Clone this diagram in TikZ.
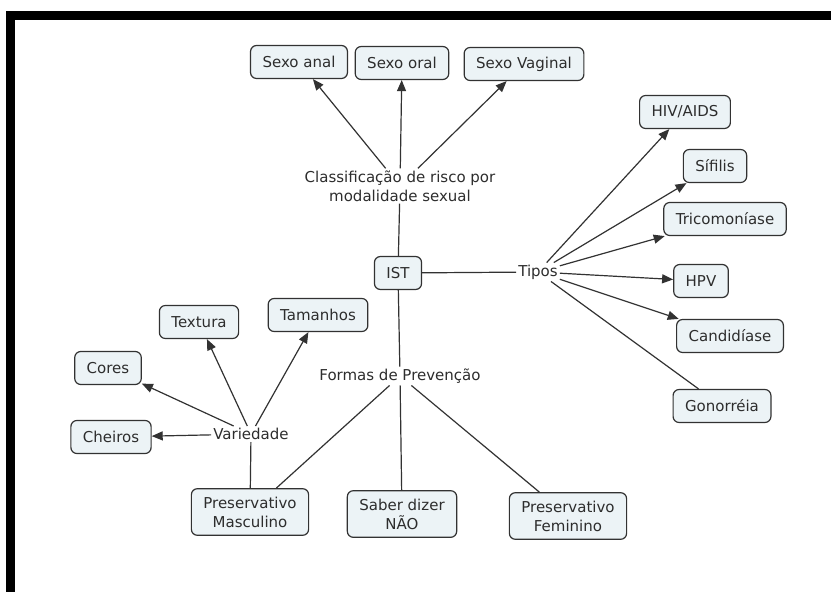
\documentclass[tikz,border=0pt]{standalone}
\usepackage{fontspec}
\setmainfont{DejaVu Sans}
\usetikzlibrary{arrows.meta}

\definecolor{caixa}{RGB}{236,243,246}
\definecolor{linha}{RGB}{50,50,50}
\definecolor{texto}{RGB}{45,45,45}

\begin{document}
\begin{tikzpicture}[x=1bp, y=-1bp,
    conceito/.style={draw=linha, fill=caixa, rounded corners=6bp, line width=1.2bp, text=texto,
        inner xsep=12bp, inner ysep=8bp, minimum height=33bp, align=center,
        font=\fontsize{15bp}{19bp}\selectfont},
    frase/.style={text=texto, inner sep=2bp, align=center, font=\fontsize{15bp}{19bp}\selectfont},
    liga/.style={draw=linha, line width=1.2bp},
    seta/.style={liga, -{Triangle[length=11bp, width=9bp]}}]
    \fill[white] (0, 0) rectangle (831, 592);
    \useasboundingbox (0, 0) rectangle (831, 592);
    \fill[black] (6, 11) rectangle (831, 20);
    \fill[black] (6, 11) rectangle (15, 592);

    \node[conceito] (ist) at (398, 273) {IST};

    \node[frase] (classif) at (400, 186) {Classificação de risco por\\modalidade sexual};
    \node[conceito] (anal) at (299, 62) {Sexo anal};
    \node[conceito] (oral) at (402, 63) {Sexo oral};
    \node[conceito] (vaginal) at (524, 64) {Sexo Vaginal};

    \node[frase] (tipos) at (538, 272) {Tipos};
    \node[conceito] (hiv) at (685, 112) {HIV/AIDS};
    \node[conceito] (sifilis) at (715, 166) {Sífilis};
    \node[conceito] (trico) at (725, 219) {Tricomoníase};
    \node[conceito] (hpv) at (701, 281) {HPV};
    \node[conceito] (candi) at (730, 336) {Candidíase};
    \node[conceito] (gono) at (722, 406) {Gonorréia};

    \node[frase] (formas) at (400, 376) {Formas de Prevenção};
    \node[conceito] (masc) at (250, 512) {Preservativo\\Masculino};
    \node[conceito] (saber) at (402, 514) {Saber dizer\\NÃO};
    \node[conceito] (fem) at (568, 516) {Preservativo\\Feminino};

    \node[frase] (variedade) at (251, 434) {Variedade};
    \node[conceito] (cheiros) at (111, 437) {Cheiros};
    \node[conceito] (cores) at (108, 368) {Cores};
    \node[conceito] (textura) at (199, 322) {Textura};
    \node[conceito] (tamanhos) at (318, 315) {Tamanhos};

    \draw[liga] (ist) -- (classif);
    \draw[seta] (classif) -- (anal);
    \draw[seta] (classif) -- (oral);
    \draw[seta] (classif) -- (vaginal);

    \draw[liga] (ist) -- (tipos);
    \draw[seta] (tipos) -- (hiv);
    \draw[seta] (tipos) -- (sifilis);
    \draw[seta] (tipos) -- (trico);
    \draw[seta] (tipos) -- (hpv);
    \draw[seta] (tipos) -- (candi);
    \draw[liga] (tipos) -- (gono);

    \draw[liga] (ist) -- (formas);
    \draw[liga] (formas) -- (masc);
    \draw[liga] (formas) -- (saber);
    \draw[liga] (formas) -- (fem);

    \draw[liga] (masc) -- (variedade);
    \draw[seta] (variedade) -- (cheiros);
    \draw[seta] (variedade) -- (cores);
    \draw[seta] (variedade) -- (textura);
    \draw[seta] (variedade) -- (tamanhos);
\end{tikzpicture}
\end{document}
